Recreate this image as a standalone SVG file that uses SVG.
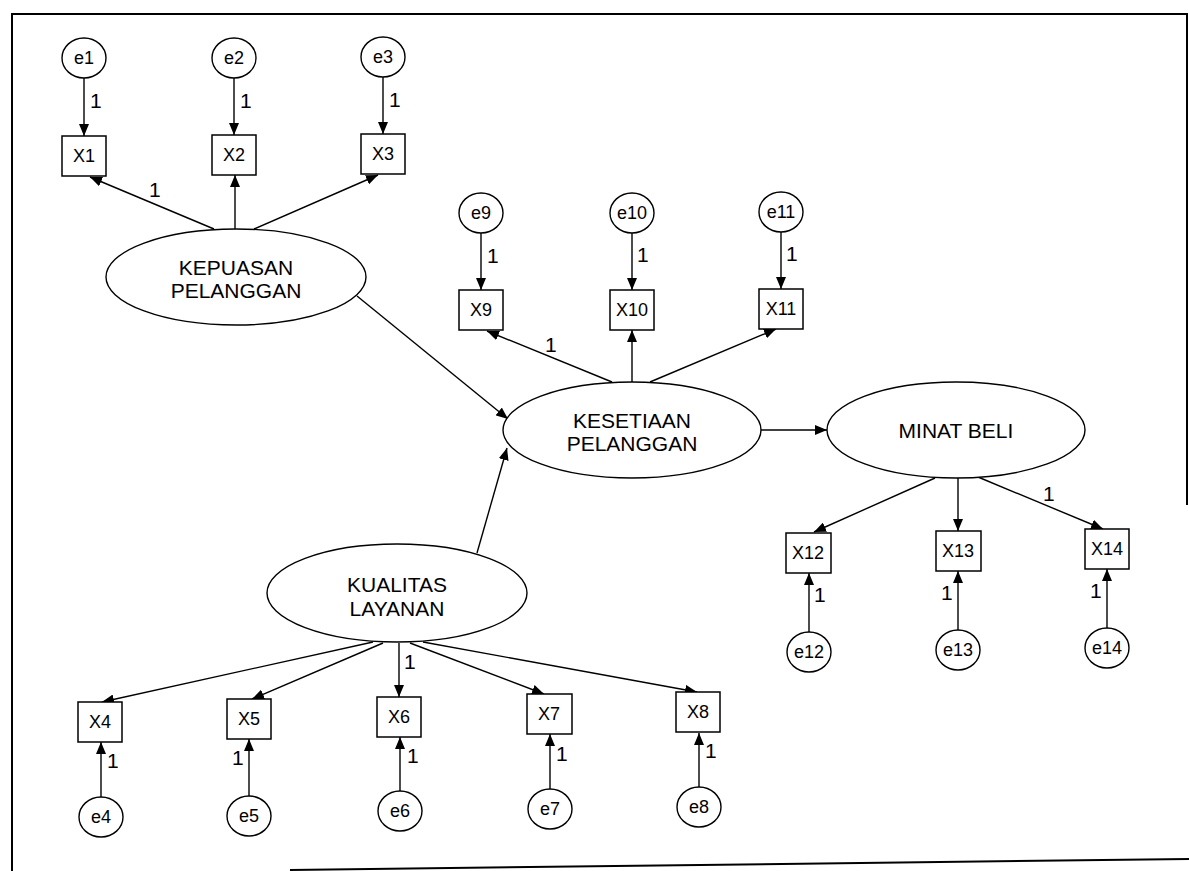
<svg xmlns="http://www.w3.org/2000/svg" width="1189" height="871" viewBox="0 0 1189 871">
  <style>
    text { font-family: "Liberation Sans", Arial, sans-serif; fill: #000; }
    .lat { fill: #fff; stroke: #000; stroke-width: 1.4; }
    .obs { fill: #fff; stroke: #000; stroke-width: 1.5; }
    .err { fill: #fff; stroke: #000; stroke-width: 1.4; }
    .name { font-size: 21px; text-anchor: middle; }
    .var { font-size: 18px; text-anchor: middle; }
    .w { font-size: 21px; }
    .edge { stroke: #000; stroke-width: 1.4; fill: none; marker-end: url(#ah); }
    .frame { stroke: #000; stroke-width: 2; fill: none; }
  </style>
  <defs>
    <marker id="ah" viewBox="0 0 12 10" refX="12" refY="5" markerWidth="12" markerHeight="10" markerUnits="userSpaceOnUse" orient="auto">
      <path d="M0,0 L12,5 L0,10 z" fill="#000"/>
    </marker>
  </defs>

  <rect width="1189" height="871" fill="#fff"/>

  <!-- page frame -->
  <g id="frame">
    <path class="frame" d="M12,871 V14 H1187 V505"/>
    <path class="frame" d="M290,870 L1189,859"/>
  </g>

  <!-- paths and loadings -->
  <g id="connectors">
    <!-- error terms to indicators, top -->
    <line class="edge" x1="84" y1="78" x2="84" y2="136"/>
    <line class="edge" x1="234" y1="78" x2="234" y2="135"/>
    <line class="edge" x1="383" y1="77" x2="383" y2="134"/>
    <!-- kepuasan loadings -->
    <line class="edge" x1="214" y1="229" x2="90" y2="177"/>
    <line class="edge" x1="235" y1="229" x2="235" y2="175"/>
    <line class="edge" x1="254" y1="229" x2="378" y2="175"/>
    <!-- structural paths -->
    <line class="edge" x1="357" y1="296" x2="508" y2="419"/>
    <line class="edge" x1="477" y1="553" x2="507" y2="448"/>
    <line class="edge" x1="761" y1="430" x2="827" y2="430"/>
    <!-- kesetiaan indicators -->
    <line class="edge" x1="481" y1="233" x2="481" y2="290"/>
    <line class="edge" x1="632" y1="233" x2="632" y2="290"/>
    <line class="edge" x1="781" y1="232" x2="781" y2="289"/>
    <line class="edge" x1="612" y1="382" x2="487" y2="331"/>
    <line class="edge" x1="632" y1="382" x2="632" y2="330"/>
    <line class="edge" x1="650" y1="382" x2="776" y2="329"/>
    <!-- minat beli indicators -->
    <line class="edge" x1="935" y1="478" x2="814" y2="532"/>
    <line class="edge" x1="958" y1="478" x2="958" y2="531"/>
    <line class="edge" x1="978" y1="477" x2="1103" y2="529"/>
    <line class="edge" x1="809" y1="632" x2="809" y2="573"/>
    <line class="edge" x1="958" y1="630" x2="958" y2="571"/>
    <line class="edge" x1="1107" y1="628" x2="1107" y2="569"/>
    <!-- kualitas layanan indicators -->
    <line class="edge" x1="373" y1="642" x2="102" y2="702"/>
    <line class="edge" x1="383" y1="643" x2="252" y2="699"/>
    <line class="edge" x1="399" y1="643" x2="399" y2="697"/>
    <line class="edge" x1="410" y1="643" x2="544" y2="694"/>
    <line class="edge" x1="423" y1="642" x2="697" y2="692"/>
    <line class="edge" x1="101" y1="797" x2="101" y2="742"/>
    <line class="edge" x1="249" y1="796" x2="249" y2="739"/>
    <line class="edge" x1="400" y1="791" x2="400" y2="737"/>
    <line class="edge" x1="550" y1="789" x2="550" y2="734"/>
    <line class="edge" x1="699" y1="787" x2="699" y2="733"/>
    <!-- fixed weights -->
    <text class="w" x="90" y="108">1</text>
    <text class="w" x="240" y="108">1</text>
    <text class="w" x="389" y="107">1</text>
    <text class="w" x="149" y="197">1</text>
    <text class="w" x="487" y="263">1</text>
    <text class="w" x="637" y="262">1</text>
    <text class="w" x="786" y="261">1</text>
    <text class="w" x="545" y="352">1</text>
    <text class="w" x="1043" y="501">1</text>
    <text class="w" x="814" y="602">1</text>
    <text class="w" x="941" y="600">1</text>
    <text class="w" x="1090" y="598">1</text>
    <text class="w" x="404" y="669">1</text>
    <text class="w" x="107" y="768">1</text>
    <text class="w" x="232" y="765">1</text>
    <text class="w" x="407" y="763">1</text>
    <text class="w" x="556" y="761">1</text>
    <text class="w" x="705" y="758">1</text>
  </g>

  <!-- latent variables -->
  <g id="kepuasan">
    <ellipse class="lat" cx="236" cy="277" rx="130" ry="48"/>
    <text class="name" x="236" y="275">KEPUASAN</text>
    <text class="name" x="236" y="298">PELANGGAN</text>
  </g>
  <g id="kesetiaan">
    <ellipse class="lat" cx="632" cy="430" rx="129" ry="48"/>
    <text class="name" x="632" y="428">KESETIAAN</text>
    <text class="name" x="632" y="451">PELANGGAN</text>
  </g>
  <g id="minat">
    <ellipse class="lat" cx="956" cy="430" rx="129" ry="48"/>
    <text class="name" x="956" y="438" font-size="22">MINAT BELI</text>
  </g>
  <g id="kualitas">
    <ellipse class="lat" cx="397" cy="593" rx="130" ry="49"/>
    <text class="name" x="397" y="592">KUALITAS</text>
    <text class="name" x="397" y="616">LAYANAN</text>
  </g>

  <!-- indicators -->
  <g id="X1"><rect class="obs" x="62" y="136" width="44" height="40"/><text class="var" x="84" y="162">X1</text></g>
  <g id="X2"><rect class="obs" x="212" y="135" width="44" height="40"/><text class="var" x="234" y="161">X2</text></g>
  <g id="X3"><rect class="obs" x="361" y="134" width="44" height="40"/><text class="var" x="383" y="160">X3</text></g>
  <g id="X9"><rect class="obs" x="459" y="290" width="44" height="40"/><text class="var" x="481" y="316">X9</text></g>
  <g id="X10"><rect class="obs" x="610" y="290" width="44" height="40"/><text class="var" x="632" y="316">X10</text></g>
  <g id="X11"><rect class="obs" x="759" y="289" width="44" height="40"/><text class="var" x="781" y="315">X11</text></g>
  <g id="X12"><rect class="obs" x="786" y="533" width="45" height="40"/><text class="var" x="808" y="559">X12</text></g>
  <g id="X13"><rect class="obs" x="936" y="531" width="45" height="40"/><text class="var" x="958" y="557">X13</text></g>
  <g id="X14"><rect class="obs" x="1085" y="529" width="44" height="40"/><text class="var" x="1107" y="555">X14</text></g>
  <g id="X4"><rect class="obs" x="78" y="702" width="44" height="40"/><text class="var" x="100" y="728">X4</text></g>
  <g id="X5"><rect class="obs" x="227" y="699" width="44" height="40"/><text class="var" x="249" y="725">X5</text></g>
  <g id="X6"><rect class="obs" x="377" y="697" width="44" height="40"/><text class="var" x="399" y="723">X6</text></g>
  <g id="X7"><rect class="obs" x="527" y="694" width="45" height="40"/><text class="var" x="549" y="720">X7</text></g>
  <g id="X8"><rect class="obs" x="676" y="692" width="44" height="40"/><text class="var" x="698" y="718">X8</text></g>

  <!-- error terms -->
  <g id="e1"><ellipse class="err" cx="84" cy="58" rx="22" ry="20"/><text class="var" x="84" y="64">e1</text></g>
  <g id="e2"><ellipse class="err" cx="234" cy="58" rx="22" ry="20"/><text class="var" x="234" y="64">e2</text></g>
  <g id="e3"><ellipse class="err" cx="383" cy="57" rx="22" ry="20"/><text class="var" x="383" y="63">e3</text></g>
  <g id="e9"><ellipse class="err" cx="481" cy="213" rx="22" ry="20"/><text class="var" x="481" y="219">e9</text></g>
  <g id="e10"><ellipse class="err" cx="632" cy="213" rx="22" ry="20"/><text class="var" x="632" y="219">e10</text></g>
  <g id="e11"><ellipse class="err" cx="781" cy="212" rx="22" ry="20"/><text class="var" x="781" y="218">e11</text></g>
  <g id="e12"><ellipse class="err" cx="809" cy="652" rx="22" ry="20"/><text class="var" x="809" y="658">e12</text></g>
  <g id="e13"><ellipse class="err" cx="958" cy="650" rx="22" ry="20"/><text class="var" x="958" y="656">e13</text></g>
  <g id="e14"><ellipse class="err" cx="1107" cy="648" rx="22" ry="20"/><text class="var" x="1107" y="654">e14</text></g>
  <g id="e4"><ellipse class="err" cx="101" cy="817" rx="22" ry="20"/><text class="var" x="101" y="823">e4</text></g>
  <g id="e5"><ellipse class="err" cx="249" cy="816" rx="22" ry="20"/><text class="var" x="249" y="822">e5</text></g>
  <g id="e6"><ellipse class="err" cx="400" cy="811" rx="22" ry="20"/><text class="var" x="400" y="817">e6</text></g>
  <g id="e7"><ellipse class="err" cx="550" cy="809" rx="22" ry="20"/><text class="var" x="550" y="815">e7</text></g>
  <g id="e8"><ellipse class="err" cx="699" cy="807" rx="22" ry="20"/><text class="var" x="699" y="813">e8</text></g>
</svg>
